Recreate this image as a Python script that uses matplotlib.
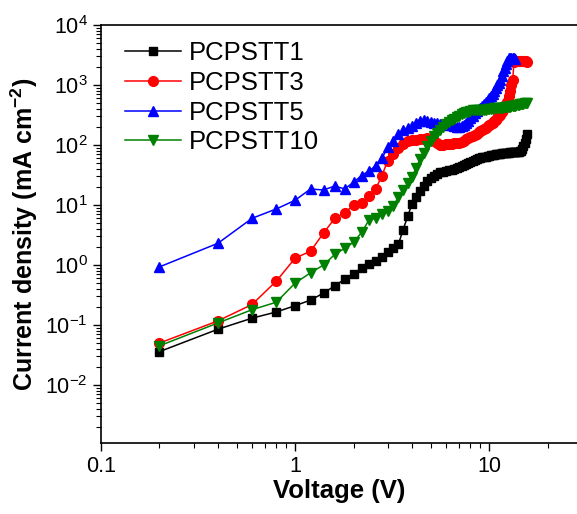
import matplotlib
matplotlib.use("Agg")
import matplotlib.pyplot as plt
from matplotlib.ticker import LogLocator, LogFormatterMathtext, FixedLocator, FixedFormatter, NullFormatter

plt.rcParams['font.family'] = ['Liberation Sans', 'DejaVu Sans']
plt.rcParams['mathtext.fontset'] = 'custom'
plt.rcParams['mathtext.rm'] = 'Liberation Sans'
plt.rcParams['mathtext.it'] = 'Liberation Sans:italic'
plt.rcParams['mathtext.bf'] = 'Liberation Sans:bold'

# ---------------- data ----------------
voltage = [0.2, 0.4, 0.6, 0.8, 1.0, 1.2, 1.4, 1.6, 1.8, 2.0,
           2.2, 2.4, 2.6, 2.8, 3.0, 3.2, 3.4, 3.6, 3.8, 4.0,
           4.2, 4.4, 4.6, 4.8, 5.0, 5.2, 5.4, 5.6, 5.8, 6.0,
           6.2, 6.4, 6.6, 6.8, 7.0, 7.2, 7.4, 7.6, 7.8, 8.0,
           8.2, 8.4, 8.6, 8.8, 9.0, 9.2, 9.4, 9.6, 9.8, 10.0,
           10.2, 10.4, 10.6, 10.8, 11.0, 11.2, 11.4, 11.6, 11.8, 12.0,
           12.2, 12.4, 12.6, 12.8, 13.0, 13.2, 13.4, 13.6, 13.8, 14.0,
           14.2, 14.4, 14.6, 14.8, 15.0, 15.2, 15.4, 15.6]

pcpstt1 = [0.036, 0.085, 0.13, 0.165, 0.21, 0.26, 0.34, 0.45, 0.58, 0.72,
           0.88, 1.02, 1.15, 1.35, 1.65, 1.95, 2.2, 3.9, 6.5, 10.5,
           13.5, 17, 21, 25, 28, 31, 33, 35, 36, 37,
           38, 39, 40, 41, 43, 44, 46, 48, 50, 52,
           54, 56, 58, 60, 61, 62, 63, 64, 65, 66,
           67, 68, 69, 70, 71, 72, 72, 73, 73, 73,
           74, 74, 74, 75, 75, 75, 76, 76, 76, 77,
           77, 78, 80, 85, 95, 108, 125, 150]

pcpstt3 = [0.05, 0.117, 0.22, 0.54, 1.3, 1.7, 3.4, 6.0, 7.4, 10.0,
           10.8, 14, 18.5, 31, 55, 70, 90, 105, 115, 120,
           122, 125, 128, 130, 128, 118, 108, 100, 100, 102,
           104, 105, 106, 108, 110, 113, 118, 124, 130, 136,
           142, 148, 155, 162, 170, 178, 186, 195, 205, 212,
           222, 235, 250, 265, 280, 300, 316, 350, 390, 430,
           480, 530, 650, 800, 1000, 1200, 2450, 2480, 2500, 2500,
           2500, 2500, 2500, 2500, 2500, 2500, 2500, 2450]

voltage5 = voltage[:68]
pcpstt5 = [0.93, 2.3, 6.0, 8.6, 12, 18.5, 17.8, 20.7, 18.5, 24,
           31, 37, 45, 60, 92, 118, 150, 175, 195, 210,
           230, 250, 265, 255, 245, 235, 230, 225, 222, 220,
           215, 212, 208, 203, 200, 205, 215, 230, 250, 280,
           310, 345, 375, 400, 420, 450, 490, 530, 570, 600,
           650, 720, 800, 900, 1000, 1100, 1200, 1400, 1700, 1900,
           2200, 2500, 2800, 2800, 2800, 2800, 2800, 2750]

pcpstt10 = [0.045, 0.108, 0.18, 0.24, 0.5, 0.74, 1.0, 1.5, 1.9, 2.4,
            3.5, 5.6, 6.0, 7.0, 8.0, 9.5, 13.5, 17.5, 23, 29,
            42, 58, 73, 95, 115, 140, 160, 180, 200, 225,
            245, 260, 275, 290, 310, 325, 340, 350, 360, 370,
            380, 390, 385, 380, 378, 380, 385, 390, 395, 400,
            402, 405, 408, 410, 412, 414, 415, 418, 420, 425,
            428, 430, 433, 437, 440, 445, 450, 455, 460, 465,
            470, 475, 480, 485, 490, 495, 500, 510]

labels = ['PCPSTT1', 'PCPSTT3', 'PCPSTT5', 'PCPSTT10']
colors = ['black', 'red', 'blue', 'green']

# ---------------- figure ----------------
fig = plt.figure(figsize=(5.77, 5.14), dpi=100)
ax = fig.add_axes([101/577, 71/514, 476/577, 418/514])

ax.plot(voltage, pcpstt1, color=colors[0], marker='s', ms=6.2, lw=1.1, label=labels[0])
ax.plot(voltage, pcpstt3, color=colors[1], marker='o', ms=7, lw=1.1, label=labels[1])
ax.plot(voltage5, pcpstt5, color=colors[2], marker='^', ms=7.5, lw=1.1, label=labels[2])
ax.plot(voltage, pcpstt10, color=colors[3], marker='v', ms=7.5, lw=1.1, label=labels[3])

ax.set_xscale('log')
ax.set_yscale('log')
ax.set_xlim(0.1, 28.3)
ax.set_ylim(1.08e-3, 1e4)

ax.xaxis.set_major_locator(FixedLocator([0.1, 1, 10]))
ax.xaxis.set_major_formatter(FixedFormatter(['0.1', '1', '10']))
ax.xaxis.set_minor_locator(LogLocator(base=10, subs=range(2, 10), numticks=20))
ax.xaxis.set_minor_formatter(NullFormatter())

ax.yaxis.set_major_locator(LogLocator(base=10, numticks=20))
ax.yaxis.set_major_formatter(LogFormatterMathtext())
ax.yaxis.set_minor_locator(LogLocator(base=10, subs=range(2, 10), numticks=20))
ax.yaxis.set_minor_formatter(NullFormatter())

ax.tick_params(axis='both', which='major', direction='out', length=6, width=1.0,
               labelsize=15.5, top=False, right=False)
ax.tick_params(axis='both', which='minor', direction='out', length=3.5, width=0.8,
               top=False, right=False)

ax.spines['right'].set_visible(False)
for s in ['left', 'bottom', 'top']:
    ax.spines[s].set_linewidth(1.2)

ax.set_xlabel('Voltage (V)', fontsize=18.5, fontweight='bold', labelpad=1)
ax.set_ylabel(r'Current density (mA cm$^{\mathbf{-2}}$)', fontsize=18, fontweight='bold', labelpad=4)

ax.legend(loc='upper left', frameon=False, fontsize=18.5, handlelength=2.2,
          handletextpad=0.3, labelspacing=0.22, borderaxespad=0.4,
          bbox_to_anchor=(0.007, 1.01))

fig.savefig('out.png', dpi=100)
